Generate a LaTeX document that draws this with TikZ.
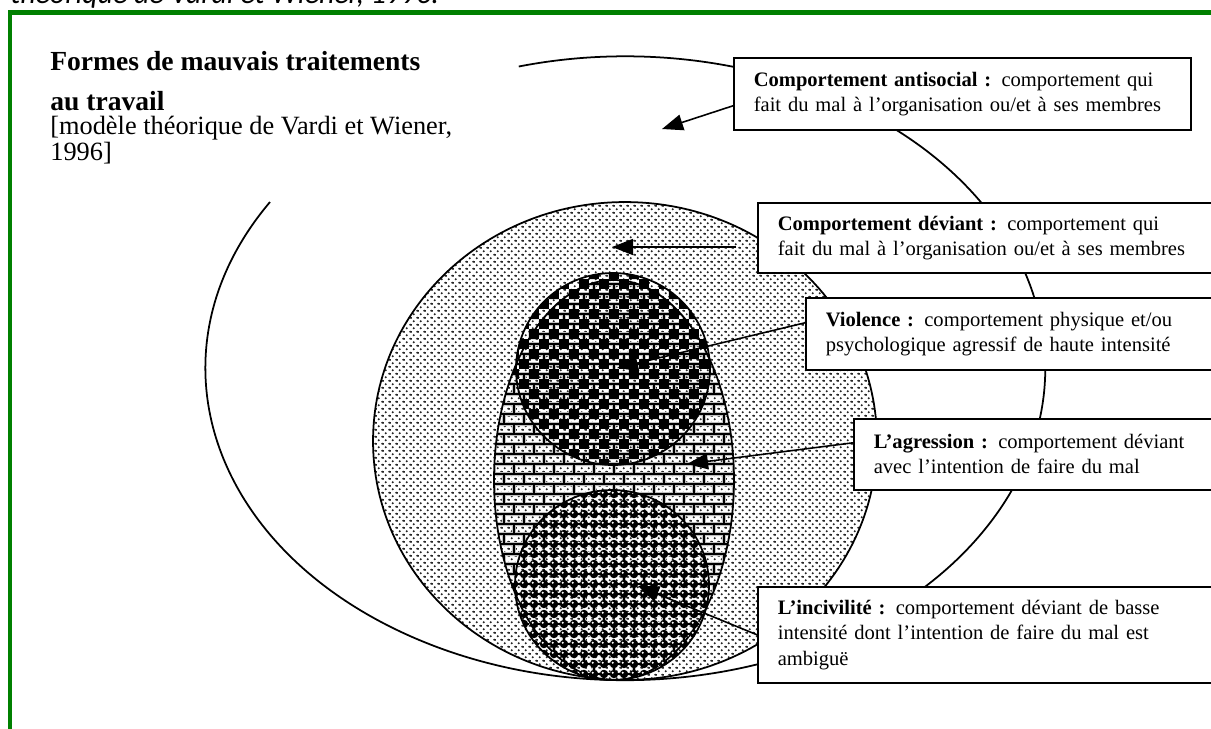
\documentclass[tikz,border=0pt]{standalone}
\usepackage{fontspec}
\setmainfont{Liberation Serif}
\newfontfamily\captfont{Carlito}
\usepackage{tikz}
\usetikzlibrary{arrows.meta, positioning, patterns.meta}
\definecolor{framegreen}{RGB}{0,128,0}

% fill patterns of the four zones
\tikzdeclarepattern{
  name=devdots, type=colored,
  bottom left={(0,0)}, top right={(0.14cm,0.14cm)}, tile size={(0.14cm,0.14cm)},
  code={
    \fill[black!85] (0.035cm,0.035cm) circle[radius=0.022cm]
                    (0.105cm,0.105cm) circle[radius=0.022cm];
  }}
\tikzdeclarepattern{
  name=chequer, type=colored,
  bottom left={(0,0)}, top right={(0.4cm,0.4cm)}, tile size={(0.4cm,0.4cm)},
  code={
    \fill[black] (0,0) rectangle (0.2cm,0.2cm) (0.2cm,0.2cm) rectangle (0.4cm,0.4cm);
  }}
\tikzdeclarepattern{
  name=brickwall, type=colored,
  bottom left={(0,0)}, top right={(0.4cm,0.4cm)}, tile size={(0.4cm,0.4cm)},
  code={
    \draw[gray!50, line width=0.08cm] (0,0.1cm) -- (0.4cm,0.1cm) (0,0.3cm) -- (0.4cm,0.3cm)
      (0.1cm,0.1cm) -- (0.1cm,0.3cm) (0.3cm,0.3cm) -- (0.3cm,0.4cm) (0.3cm,0) -- (0.3cm,0.1cm);
    \draw[black, line width=0.035cm] (0,0.1cm) -- (0.4cm,0.1cm) (0,0.3cm) -- (0.4cm,0.3cm)
      (0.1cm,0.1cm) -- (0.1cm,0.3cm) (0.3cm,0.3cm) -- (0.3cm,0.4cm) (0.3cm,0) -- (0.3cm,0.1cm);
  }}
\tikzdeclarepattern{
  name=balls, type=colored,
  bottom left={(0,0)}, top right={(0.2cm,0.2cm)}, tile size={(0.2cm,0.2cm)},
  code={
    \fill[black] (0.1cm,0.1cm) circle[radius=0.085cm];
    \fill[white] (0.075cm,0.125cm) circle[radius=0.022cm];
  }}

\begin{document}
\begin{tikzpicture}[x=0.02cm, y=-0.02cm,
    zone/.style={draw=black, line width=1pt},
    infobox/.style={draw=black, line width=0.9pt, fill=white, anchor=north west,
                    align=left, text width=#1, inner xsep=0.4cm, inner ysep=0.1cm,
                    font=\fontsize{11.7}{14.4}\selectfont},
    pointer/.style={line width=0.9pt, -{Triangle[length=0.42cm, width=0.32cm]}}
]
    \useasboundingbox (0,0) rectangle (1211,728);
    \clip (0,0) rectangle (1211,728);

    % frame and cut caption
    \draw[framegreen, line width=0.1cm] (10,12) rectangle (1300,800);
    \node[anchor=base west, inner sep=0, font=\captfont\itshape\fontsize{17}{20}\selectfont]
        (capline) at (10,3) {théorique de Vardi et Wiener, 1996.};

    % title
    \node[anchor=north west, align=left, inner sep=0,
          font=\bfseries\fontsize{15.7}{22.7}\selectfont]
        (title) at (50,51) {Formes de mauvais traitements\\au travail};
    \node[below right=0.1cm and 0cm of title.south west, align=left, inner sep=0,
          font=\fontsize{15}{13.5}\selectfont]
        (subtitle) {[modèle théorique de Vardi et Wiener,\\1996]};

    % zones
    \draw[zone] (270,202) arc[start angle=147.8, end angle=464.7,
                              x radius=8.4cm, y radius=6.24cm];
    \draw[zone, pattern=devdots] (625,441) ellipse[x radius=5.04cm, y radius=4.78cm];
    \draw[zone, pattern=brickwall] (614,480) ellipse[x radius=2.4cm, y radius=4cm];
    \draw[zone, pattern=balls] (612,585) ellipse[x radius=1.94cm, y radius=1.9cm];
    \draw[zone, pattern=chequer] (613,369) ellipse[x radius=1.94cm, y radius=1.92cm];

    % boxes
    \node[infobox=8.34cm, minimum height=1.44cm] (antibox) at (733,57)
        {\textbf{Comportement antisocial :} comportement qui\\fait du mal à l’organisation ou/et à ses membres};
    \node[infobox=9.5cm, minimum height=1.4cm] (devbox) at (757,202)
        {\textbf{Comportement déviant :} comportement qui\\fait du mal à l’organisation ou/et à ses membres};
    \node[infobox=8.6cm, minimum height=1.44cm] (violbox) at (805,297)
        {\textbf{Violence :} comportement physique et/ou\\psychologique agressif de haute intensité};
    \node[infobox=7.6cm, minimum height=1.42cm] (aggrbox) at (853,418)
        {\textbf{L’agression :} comportement déviant\\avec l’intention de faire du mal};
    \node[infobox=9.5cm, minimum height=1.92cm] (incibox) at (757,586)
        {\textbf{L’incivilité :} comportement déviant de basse\\intensité dont l’intention de faire du mal est\\ambiguë};

    % pointers
    \coordinate (antitip) at (662,129);
    \coordinate (devtail) at (736,247);
    \coordinate (devtip) at (612,247);
    \coordinate (violtip) at (617,368);
    \coordinate (aggrtip) at (687,464);
    \coordinate (incitip) at (638,586);
    \draw[pointer] ([yshift=-0.24cm]antibox.west) -- (antitip);
    \draw[pointer] (devtail) -- (devtip);
    \draw[pointer] ([yshift=0.22cm]violbox.west) -- (violtip);
    \draw[pointer] ([yshift=0.23cm]aggrbox.west) -- (aggrtip);
    \draw[pointer] (incibox.west) -- (incitip);
\end{tikzpicture}
\end{document}
